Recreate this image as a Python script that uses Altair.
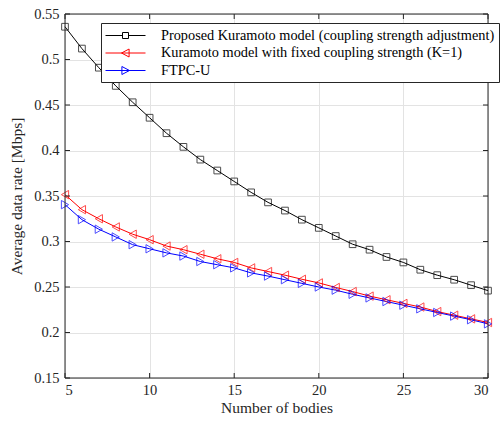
import altair as alt
import pandas as pd

nbodies = list(range(5, 31))
series_names = [
    "Proposed Kuramoto model (coupling strength adjustment)",
    "Kuramoto model with fixed coupling strength (K=1)",
    "FTPC-U",
]
proposed = [0.536, 0.512, 0.491, 0.471, 0.453, 0.436, 0.419, 0.404, 0.390, 0.378,
            0.366, 0.354, 0.343, 0.334, 0.324, 0.315, 0.306, 0.297, 0.291, 0.283,
            0.277, 0.269, 0.263, 0.258, 0.252, 0.246]
fixed_k = [0.3515, 0.335, 0.325, 0.316, 0.308, 0.302, 0.295, 0.291, 0.286, 0.281,
           0.277, 0.271, 0.267, 0.263, 0.2585, 0.2545, 0.2495, 0.245, 0.240, 0.236,
           0.232, 0.228, 0.223, 0.219, 0.215, 0.211]
ftpc = [0.3405, 0.324, 0.3135, 0.305, 0.2965, 0.292, 0.2875, 0.284, 0.278, 0.2745,
        0.271, 0.2655, 0.262, 0.258, 0.254, 0.250, 0.2465, 0.242, 0.238, 0.234,
        0.230, 0.226, 0.222, 0.218, 0.214, 0.2095]
x_ticks = [5, 10, 15, 20, 25, 30]
y_ticks = [0.15, 0.2, 0.25, 0.3, 0.35, 0.4, 0.45, 0.5, 0.55]

colors = ["#000000", "#ff0000", "#0000ff"]
plot_shapes = ["square", "triangle-left", "triangle-right"]
legend_paths = [
    "M-2.5,0H-0.375M0.375,0H2.5M-0.375,-0.375H0.375V0.375H-0.375Z",
    "M-2.5,0H2.5M-0.5,0L0.45,-0.5L0.45,0.5Z",
    "M-2.5,0H2.5M0.5,0L-0.45,-0.5L-0.45,0.5Z",
]

rows = []
for name, vals in zip(series_names, [proposed, fixed_k, ftpc]):
    for n, v in zip(nbodies, vals):
        rows.append({"n": n, "rate": v, "series": name})
df = pd.DataFrame(rows)

W, H = 423, 364
FONT = "Liberation Serif"
AX = "#262626"

xscale = alt.Scale(domain=[5, 30], nice=False, zero=False)
yscale = alt.Scale(domain=[0.15, 0.55], nice=False, zero=False)

xenc = alt.X("n:Q", scale=xscale,
             axis=alt.Axis(values=x_ticks, title="Number of bodies", labelPadding=5,
                           titlePadding=4))
yenc = alt.Y("rate:Q", scale=yscale,
             axis=alt.Axis(values=y_ticks, format="~g", title="Average data rate [Mbps]",
                           labelPadding=6, titlePadding=9))

base = alt.Chart(df)
layers = []
for i, (name, shp, col) in enumerate(zip(series_names, plot_shapes, colors)):
    sub = base.transform_filter(alt.datum.series == name)
    layers.append(sub.mark_line(strokeWidth=1, color=col).encode(
        x=xenc if i == 0 else alt.X("n:Q", scale=xscale),
        y=yenc if i == 0 else alt.Y("rate:Q", scale=yscale)))
for name, shp, col in zip(series_names, plot_shapes, colors):
    sub = base.transform_filter(alt.datum.series == name)
    layers.append(sub.mark_point(shape=shp, filled=False, color=col,
                                 size=45 if shp == "square" else 70, strokeWidth=1).encode(
        x=alt.X("n:Q", scale=xscale), y=alt.Y("rate:Q", scale=yscale)))

leg = alt.Legend(
    title=None, orient="none", legendX=36, legendY=9,
    fillColor="white", strokeColor=AX, padding=4,
    symbolSize=256, symbolStrokeWidth=1, symbolOffset=12,
    labelFont=FONT, labelFontSize=14.3, labelColor="#000000", labelLimit=1000,
    labelOffset=27, rowPadding=1.5,
)
legend_layer = base.mark_point(filled=False, strokeWidth=1, opacity=0).encode(
    x=alt.X("n:Q", scale=xscale), y=alt.Y("rate:Q", scale=yscale),
    color=alt.Color("series:N", scale=alt.Scale(domain=series_names, range=colors), legend=leg),
    shape=alt.Shape("series:N", scale=alt.Scale(domain=series_names, range=legend_paths), legend=leg),
)
layers.append(legend_layer)

xt = pd.DataFrame({"t": x_ticks})
yt = pd.DataFrame({"t": y_ticks})
frame = alt.Chart(xt.head(1))
rule_kw = dict(color=AX, strokeWidth=1)
layers += [
    alt.Chart(xt).mark_rule(**rule_kw).encode(
        x=alt.X("t:Q", scale=xscale), y=alt.value(H), y2=alt.value(H - 5)),
    alt.Chart(xt).mark_rule(**rule_kw).encode(
        x=alt.X("t:Q", scale=xscale), y=alt.value(0), y2=alt.value(5)),
    alt.Chart(yt).mark_rule(**rule_kw).encode(
        y=alt.Y("t:Q", scale=yscale), x=alt.value(0), x2=alt.value(5)),
    alt.Chart(yt).mark_rule(**rule_kw).encode(
        y=alt.Y("t:Q", scale=yscale), x=alt.value(W), x2=alt.value(W - 5)),
    frame.mark_rule(**rule_kw).encode(x=alt.value(0), x2=alt.value(W), y=alt.value(0)),
    frame.mark_rule(**rule_kw).encode(x=alt.value(0), x2=alt.value(W), y=alt.value(H)),
    frame.mark_rule(**rule_kw).encode(y=alt.value(0), y2=alt.value(H), x=alt.value(0)),
    frame.mark_rule(**rule_kw).encode(y=alt.value(0), y2=alt.value(H), x=alt.value(W)),
]

chart = alt.layer(*layers).properties(
    width=W, height=H,
    background="white",
    autosize=alt.AutoSizeParams(type="none"),
    padding={"left": 65, "top": 14, "right": 13, "bottom": 49},
).configure_view(
    stroke=None
).configure_axis(
    domain=False, ticks=False, grid=True, gridColor="#e3e3e3", gridWidth=1,
    labelFont=FONT, labelFontSize=14.5, labelColor=AX,
    titleFont=FONT, titleFontSize=15.5, titleFontWeight="normal", titleColor=AX,
)

chart.save("out.html", embed_options={"renderer": "svg", "actions": False})
